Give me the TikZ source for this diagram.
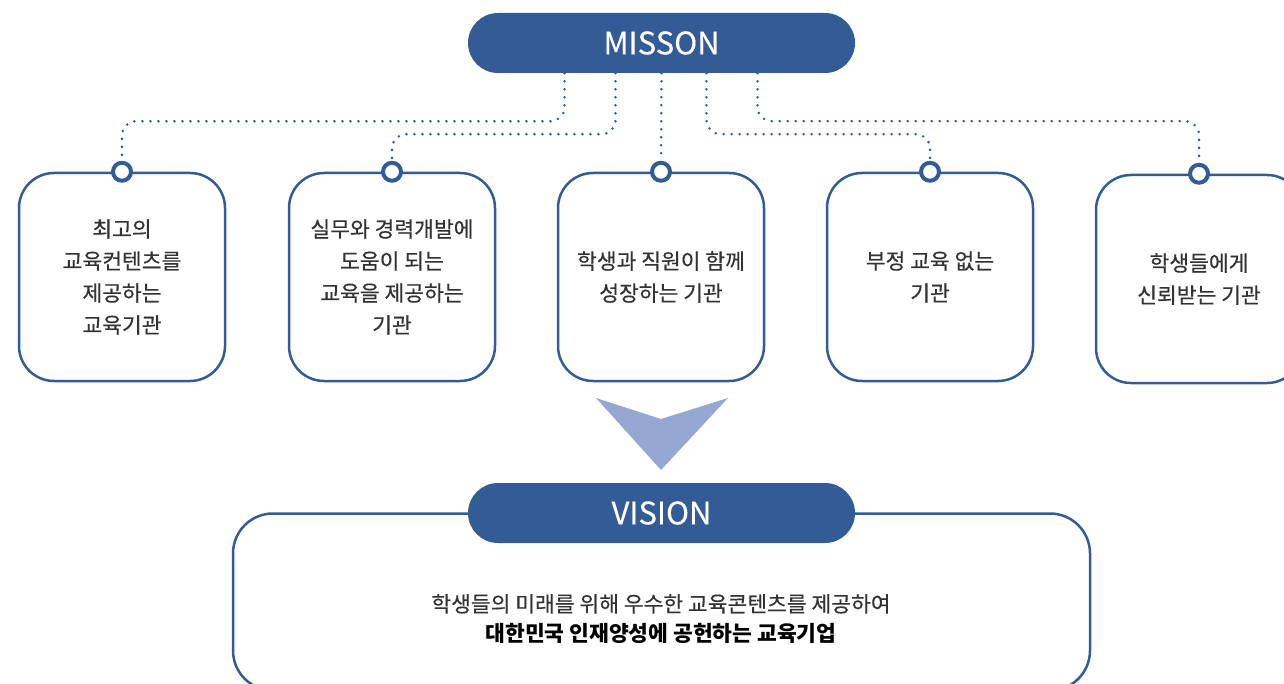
\documentclass[tikz,border=0pt]{standalone}
\usepackage{fontspec}
\setmainfont{Noto Sans CJK KR}[UprightFeatures={FakeBold=0.35}]
\definecolor{mblue}{HTML}{335C96}
\definecolor{arrowblue}{HTML}{95A8D4}
\definecolor{txt}{HTML}{333333}

\begin{document}
\begin{tikzpicture}[x=1pt,y=-1pt,
  every node/.style={font=\fontsize{21.5}{32}\selectfont, text=txt},
  pill/.style={fill=mblue, rounded corners=30pt, minimum width=387pt, minimum height=60pt, text=white, font=\fontsize{31}{32}\selectfont},
  card/.style={draw=mblue, line width=2.5pt, rounded corners=35pt, minimum width=206pt, minimum height=208pt, align=center, fill=white},
  knob/.style={circle, draw=mblue, line width=4pt, fill=white, minimum size=18pt, inner sep=0pt},
  dots/.style={mblue, line width=2.8pt, line cap=round, dash pattern=on 0pt off 8pt, rounded corners=14pt}]
  \clip (0, 0) rectangle (1284, 684);

  \node[pill] at (661.5, 43) (misson) {MISSON};

  \node[card] at (122, 277) (b1) {최고의\\교육컨텐츠를\\제공하는\\교육기관};
  \node[card] at (392, 277) (b2) {실무와 경력개발에\\도움이 되는\\교육을 제공하는\\기관};
  \node[card] at (661, 277) (b3) {학생과 직원이 함께\\성장하는 기관};
  \node[card] at (930, 277) (b4) {부정 교육 없는\\기관};
  \node[card] at (1199, 279) (b5) {학생들에게\\신뢰받는 기관};

  \node[knob] at (b1.north) (k1) {};
  \node[knob] at (b2.north) (k2) {};
  \node[knob] at (b3.north) (k3) {};
  \node[knob] at (b4.north) (k4) {};
  \node[knob] at (b5.north) (k5) {};

  \draw[dots] ([xshift=-97pt]misson.south) -- ++(0, 48) -| (k1);
  \draw[dots] ([xshift=-46pt]misson.south) -- ++(0, 61) -| (k2);
  \draw[dots] (misson.south) -- (k3);
  \draw[dots] ([xshift=45pt]misson.south) -- ++(0, 61) -| (k4);
  \draw[dots] ([xshift=96pt]misson.south) -- ++(0, 48) -| (k5);

  \fill[arrowblue] (596, 398) -- (661, 419) -- (728, 398) -- (661, 470) -- cycle;

  \node[card, minimum width=857pt, minimum height=177pt, rounded corners=40pt] at (661.5, 602) (visbox) {};
  \node[pill] at (661.5, 513) (vision) {VISION};
  \node[align=center, font=\fontsize{21.5}{30}\selectfont] at (661, 619) (vistext)
    {학생들의 미래를 위해 우수한 교육콘텐츠를 제공하여\\\textcolor{black}{\bfseries 대한민국 인재양성에 공헌하는 교육기업}};
\end{tikzpicture}
\end{document}
